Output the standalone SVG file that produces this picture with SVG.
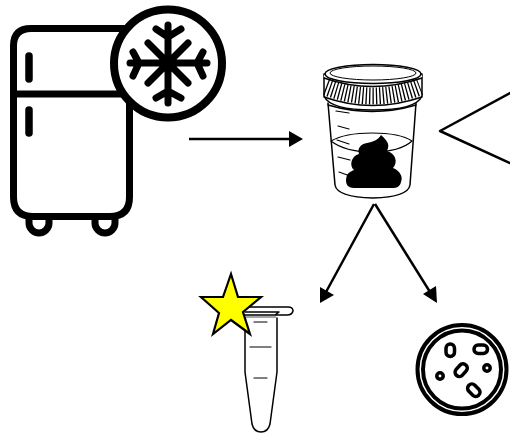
<svg xmlns="http://www.w3.org/2000/svg" width="510" height="434" viewBox="0 0 510 434">
<defs>
<style>
.k{fill:none;stroke:#000;stroke-linecap:round;stroke-linejoin:round}
.c{stroke:#000;stroke-width:2.500;fill:none}
.a{fill:#000}
</style>
</defs>
<rect width="510" height="434" fill="#fff"/>
<g id="fridge">
<path class="k" stroke-width="7" d="M29 218 v5 a10 10 0 0 0 20 0 v-5 M95 218 v5 a10 10 0 0 0 20 0 v-5"/>
<path class="k" stroke-width="7" d="M124 28.500 H31 Q13.500 28.500 13.500 46 V197 Q13.500 216.500 33 216.500 H110 Q129.500 216.500 129.500 197 V100"/>
<path class="k" stroke-width="7" d="M13.500 94 H122"/>
<path class="k" stroke-width="7.500" d="M29 56 V79 M29 110 V133"/>
</g>
<g id="freeze">
<circle cx="168" cy="63.500" r="54" fill="#fff" stroke="#000" stroke-width="8"/>
<path class="k" stroke-width="7" d="M168 25 V103 M130 63 H207 M148 43 L188 83 M188 43 L148 83 M156 29 L168 37 L181 29 M156 98 L168 91 L181 98 M133 52 L139 63 L133 76 M203 52 L197 63 L203 76"/>
</g>
<g id="connectors">
<path class="c" d="M189 139 H291"/>
<polygon class="a" points="303,139 289,131 289,147"/>
<path class="c" d="M374 204 L326 292"/>
<polygon class="a" points="320,303 320,287 334,295"/>
<path class="c" d="M375 204 L430 292"/>
<polygon class="a" points="437,303 423,294 436,286"/>
</g>
<g id="cup">
<path class="k" stroke-width="1.500" d="M328 103 L335 185 Q337 197 373 198 Q408 197 410 185 L416 103"/>
<path class="k" stroke-width="1.500" d="M328 105 Q372 118 416 105"/>
<path fill="#fff" stroke="#000" stroke-width="1.500" stroke-linejoin="round" d="M324 74 V96 Q330 110 373 110 Q416 110 422 96 V74 Z"/>
<path fill="none" stroke="#000" stroke-width="17" stroke-dasharray="1.300 2.100" d="M326 87 Q373 105 420 87"/>
<path fill="none" stroke="#fff" stroke-width="2.500" d="M324 76 Q373 92 422 76"/>
<path class="k" stroke-width="1.500" d="M324 78 Q372 95 422 78 M324 97 Q372 114 422 97"/>
<ellipse cx="373" cy="74" rx="48" ry="9.500" fill="#fff" stroke="#000" stroke-width="1.500"/>
<ellipse cx="373" cy="73" rx="43" ry="7" fill="none" stroke="#000" stroke-width="1"/>
<path class="k" stroke-width="1.200" d="M331 141 Q345 133 372 133 Q400 133 412 141 Q400 152 372 152 Q345 152 331 141"/>
<path class="k" stroke-width="1.200" d="M336 111 L349 113 M338 126 L349 129 M337 140 L349 144 M338 157 L350 160 M339 172 L350 176"/>
<path class="a" d="M381 135 C390 143 389 146 387 151 C396 154 398 162 393 168 C401 171 403 178 401 182 C400 187 396 188 393 188 H354 C348 188 344 184 347 175 C349 172 352 171 354 170 C349 166 351 156 359 154 C357 148 361 144 367 143 C373 142 378 140 381 135 Z"/>
</g>
<g id="triangle">
<path class="k" stroke-width="2.500" d="M510 93 L440 131 L510 163"/>
</g>
<g id="tube">
<path class="k" stroke-width="1.500" d="M245 318 V372 L252 424 Q254 432 261 432 Q268 432 270 424 L277 372 V318"/>
<path class="k" stroke-width="1.500" d="M245 315 H287 Q292 315 293 311 Q293 307 288 307 H248 M245 312 H279 L275 315"/>
<path fill="none" stroke="#888" stroke-width="1.500" d="M246 317 H276"/>
<path class="k" stroke-width="1.200" d="M254 322 H267 M250 347 H271 M254 378 H267"/>
</g>
<g id="star">
<polygon points="231,274 238,297 261,297 243,312 250,334 231,320 213,334 219,313 201,297 223,297" fill="#ff0" stroke="#000" stroke-width="2.200" stroke-linejoin="miter"/>
</g>
<g id="dish">
<circle cx="462" cy="369.500" r="44.500" fill="#fff" stroke="#000" stroke-width="4"/>
<circle cx="462" cy="369.500" r="39" fill="none" stroke="#000" stroke-width="4"/>
<g fill="#fff" stroke="#000" stroke-width="3.500">
<rect x="446" y="344" width="8.500" height="12.500" rx="4.200"/>
<rect x="474" y="345" width="13.500" height="8.500" rx="4.200"/>
<rect x="454" y="366" width="14" height="8.500" rx="4.200" transform="rotate(-48 461 370)"/>
<rect x="467" y="386" width="14" height="8.500" rx="4.200" transform="rotate(45 474 390)"/>
<circle cx="487" cy="368" r="3.200"/>
<circle cx="440" cy="376" r="3.200"/>
</g>
</g>
</svg>
